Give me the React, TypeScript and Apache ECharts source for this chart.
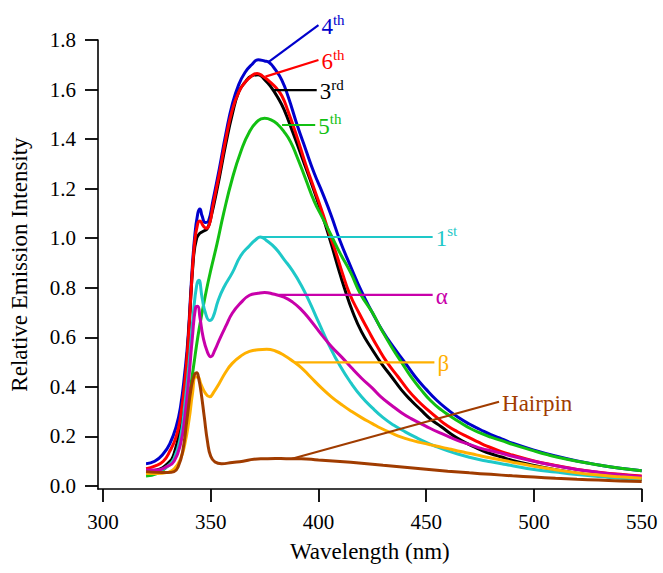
import React, { useEffect, useRef } from 'react';
import * as echarts from 'echarts';

const xTicks = [300, 350, 400, 450, 500, 550];
const yTicks = [0, 0.2, 0.4, 0.6, 0.8, 1.0, 1.2, 1.4, 1.6, 1.8];

const fourth: [number, number][] = [
  [320, 0.09], [324, 0.1], [328, 0.13], [331, 0.17], [334, 0.24], [336, 0.32], [338, 0.46], [339.5, 0.6],
  [341, 0.82], [342.5, 1.0], [344, 1.1], [345, 1.118], [346, 1.09], [347.5, 1.063], [349, 1.07], [351, 1.15],
  [354, 1.28], [357, 1.42], [360, 1.54], [363, 1.62], [366, 1.67], [369, 1.7], [372, 1.72], [375, 1.715],
  [377, 1.71], [380, 1.68], [383, 1.638], [386, 1.57], [390, 1.46], [394, 1.36], [398, 1.263], [402, 1.18],
  [406, 1.09], [410, 0.99], [415, 0.885], [420, 0.785], [425, 0.7], [430, 0.622], [435, 0.558], [440, 0.5],
  [445, 0.44], [450, 0.39], [455, 0.345], [460, 0.308], [465, 0.276], [470, 0.25], [475, 0.228], [480, 0.207],
  [485, 0.19], [490, 0.173], [500, 0.145], [510, 0.121], [520, 0.101], [530, 0.085], [540, 0.072], [550, 0.062],
];
const third: [number, number][] = [
  [320, 0.06], [325, 0.065], [330, 0.09], [333, 0.13], [336, 0.25], [338, 0.4], [340, 0.65], [342, 0.92],
  [343.5, 1.0], [345, 1.02], [347, 1.03], [348.5, 1.04], [350, 1.08], [353, 1.2], [357, 1.38], [360, 1.5],
  [363, 1.59], [366, 1.63], [369, 1.655], [372, 1.66], [375, 1.64], [378, 1.61], [381, 1.57], [384, 1.52],
  [388, 1.43], [392, 1.335], [396, 1.24], [400, 1.14], [403, 1.06], [406, 0.975], [409, 0.885], [412, 0.8],
  [416, 0.7], [420, 0.622], [425, 0.55], [429, 0.497], [434, 0.44], [438.5, 0.388], [443, 0.345],
  [447.5, 0.307], [452, 0.27], [457, 0.239], [461.5, 0.21], [466, 0.185], [471, 0.163], [475.5, 0.145],
  [480, 0.13], [485, 0.117], [490, 0.103], [500, 0.083], [510, 0.066], [520, 0.052], [530, 0.041],
  [540, 0.033], [550, 0.027],
];
const sixth: [number, number][] = [
  [320, 0.07], [324, 0.08], [328, 0.1], [331, 0.14], [334, 0.2], [336, 0.28], [338, 0.42], [339.5, 0.58],
  [341, 0.8], [342.5, 0.98], [344, 1.06], [345, 1.07], [346.5, 1.05], [348, 1.04], [349.5, 1.06], [351, 1.13],
  [354, 1.26], [357, 1.4], [360, 1.517], [363, 1.59], [366, 1.63], [369, 1.655], [371.5, 1.665], [374, 1.655],
  [377, 1.635], [380, 1.61], [383, 1.575], [386, 1.51], [390, 1.41], [394, 1.3], [398, 1.2], [402, 1.1],
  [405, 1.02], [408, 0.945], [411, 0.862], [414.5, 0.775], [419, 0.695], [423, 0.63], [427.5, 0.56],
  [432, 0.497], [437, 0.44], [441.5, 0.388], [446, 0.345], [451, 0.305], [455.5, 0.272], [460, 0.242],
  [464.5, 0.219], [469, 0.199], [474, 0.178], [478.5, 0.16], [484.5, 0.14], [490, 0.125], [500, 0.101],
  [510, 0.083], [520, 0.067], [530, 0.056], [540, 0.047], [550, 0.04],
];
const fifth: [number, number][] = [
  [320, 0.04], [325, 0.05], [330, 0.08], [333, 0.11], [336, 0.18], [338, 0.26], [340, 0.36], [342, 0.48],
  [344, 0.6], [346, 0.7], [348, 0.79], [350, 0.87], [353, 0.98], [356, 1.1], [360, 1.24], [364, 1.35],
  [368, 1.43], [372, 1.475], [375, 1.484], [378, 1.478], [381, 1.46], [384, 1.43], [387, 1.39], [390, 1.33],
  [394, 1.24], [398, 1.15], [402, 1.08], [406, 1.01], [410, 0.94], [415, 0.86], [419.5, 0.775], [425, 0.7],
  [429, 0.635], [434, 0.56], [438.5, 0.5], [443, 0.44], [447.5, 0.39], [452, 0.345], [457, 0.307],
  [461.5, 0.28], [466, 0.255], [470.5, 0.232], [475.5, 0.212], [480, 0.197], [485, 0.183], [490, 0.168],
  [500, 0.142], [506, 0.127], [510, 0.118], [520, 0.1], [530, 0.085], [540, 0.072], [550, 0.062],
];
const first: [number, number][] = [
  [320, 0.055], [325, 0.06], [330, 0.08], [333, 0.11], [336, 0.2], [338, 0.33], [340, 0.5], [342, 0.7],
  [343.5, 0.81], [344.5, 0.83], [346, 0.76], [347.5, 0.7], [349.5, 0.668], [351, 0.68], [353.5, 0.75],
  [356, 0.8], [360, 0.86], [364, 0.93], [368, 0.97], [371, 0.995], [373, 1.005], [376, 0.99], [380, 0.96],
  [384, 0.915], [388, 0.868], [392, 0.81], [396, 0.74], [400, 0.662], [405, 0.567], [410, 0.485],
  [415, 0.417], [420, 0.36], [425, 0.315], [430, 0.276], [435, 0.245], [440, 0.22], [445, 0.197], [450, 0.176],
  [455, 0.158], [460, 0.142], [465, 0.128], [470, 0.116], [475, 0.106], [480, 0.098], [485, 0.09], [490, 0.082],
  [500, 0.067], [510, 0.056], [520, 0.046], [530, 0.038], [540, 0.032], [550, 0.027],
];
const alpha: [number, number][] = [
  [320, 0.065], [325, 0.065], [330, 0.08], [333, 0.1], [336, 0.17], [338, 0.28], [340, 0.45], [341.5, 0.6],
  [343, 0.72], [344, 0.725], [345, 0.68], [346.5, 0.6], [348.5, 0.54], [350, 0.522], [352, 0.55], [354, 0.59],
  [357, 0.645], [360, 0.697], [364, 0.74], [368, 0.77], [372, 0.778], [375, 0.781], [379, 0.775], [384, 0.762],
  [388, 0.742], [392, 0.712], [396, 0.672], [401.5, 0.61], [406, 0.563], [411, 0.518], [415, 0.48],
  [420, 0.435], [425, 0.395], [429, 0.36], [434, 0.325], [438.5, 0.296], [443, 0.272], [447.5, 0.252],
  [452, 0.232], [457, 0.212], [461.5, 0.195], [466, 0.179], [471, 0.165], [475.5, 0.152], [480, 0.142],
  [485, 0.132], [490, 0.12], [500, 0.1], [510, 0.082], [520, 0.067], [530, 0.055], [540, 0.045], [550, 0.037],
];
const beta: [number, number][] = [
  [320, 0.05], [325, 0.05], [330, 0.055], [333, 0.068], [336, 0.11], [338, 0.17], [340, 0.27], [341.5, 0.37],
  [343, 0.44], [344, 0.44], [345.5, 0.41], [347.5, 0.375], [349.5, 0.36], [351.5, 0.38], [354, 0.415],
  [357, 0.46], [360, 0.495], [364, 0.525], [368, 0.543], [372, 0.55], [376, 0.552], [380, 0.545], [384, 0.528],
  [388.7, 0.5], [392, 0.478], [396, 0.443], [401.5, 0.395], [406, 0.36], [411, 0.327], [415, 0.303],
  [420, 0.276], [425, 0.252], [429, 0.233], [434, 0.213], [438.5, 0.197], [443, 0.185], [447.5, 0.175],
  [452, 0.166], [457, 0.157], [461.5, 0.148], [466, 0.139], [471, 0.13], [475.5, 0.121], [480, 0.113],
  [485, 0.105], [490, 0.096], [500, 0.08], [510, 0.066], [520, 0.053], [530, 0.044], [540, 0.037], [550, 0.031],
];
const hairpin: [number, number][] = [
  [320, 0.058], [325, 0.055], [330, 0.054], [333, 0.058], [335, 0.08], [337, 0.14], [339, 0.27], [341, 0.4],
  [342.5, 0.45], [343.5, 0.457], [344.5, 0.43], [345.5, 0.38], [347, 0.28], [348.5, 0.18], [350, 0.12],
  [352, 0.097], [355, 0.09], [360, 0.095], [365, 0.1], [370, 0.108], [375, 0.11], [380, 0.111], [385, 0.11],
  [392, 0.11], [400, 0.105], [410, 0.099], [420, 0.092], [430, 0.084], [440, 0.076], [450, 0.068], [460, 0.06],
  [470, 0.053], [480, 0.047], [490, 0.041], [500, 0.036], [510, 0.031], [520, 0.027], [530, 0.024], [540, 0.02],
  [550, 0.018],
];

const leader4th: [number, number][] = [[376.9, 1.712], [400, 1.86]];
const leader6th: [number, number][] = [[375.4, 1.652], [400, 1.719]];
const leader3rd: [number, number][] = [[379.2, 1.598], [399.2, 1.598]];
const leader5th: [number, number][] = [[383.1, 1.457], [398.5, 1.457]];
const leader1st: [number, number][] = [[373, 1.005], [453, 1.005]];
const leaderAlpha: [number, number][] = [[381.8, 0.771], [453, 0.771]];
const leaderBeta: [number, number][] = [[388.7, 0.499], [453.8, 0.499]];
const leaderHairpin: [number, number][] = [[387.7, 0.11], [483.8, 0.34]];

const FONT = 'Liberation Serif';

const C = {
  blue: '#0000cc',
  black: '#000000',
  red: '#ff0000',
  green: '#12c012',
  cyan: '#1ec8c8',
  magenta: '#c800aa',
  orange: '#ffb000',
  brown: '#a03c00',
};

function curve(name: string, data: [number, number][], color: string) {
  return {
    name,
    type: 'line',
    data,
    showSymbol: false,
    symbol: 'none',
    smooth: 0.5,
    lineStyle: { color, width: 3 },
    silent: true,
  };
}

function leader(name: string, data: [number, number][], color: string, main: string, sup?: string) {
  return {
    name,
    type: 'line',
    data,
    showSymbol: false,
    symbol: 'none',
    clip: false,
    lineStyle: { color, width: 2.2 },
    silent: true,
    endLabel: {
      show: true,
      distance: 3,
      formatter: sup ? `{n|${main}}{s|${sup}}` : `{n|${main}}`,
      rich: {
        n: { fontFamily: FONT, fontSize: 23, color, lineHeight: 26, verticalAlign: 'bottom' },
        s: { fontFamily: FONT, fontSize: 15, color, lineHeight: 15, verticalAlign: 'top' },
      },
    },
  };
}

export default function App() {
  const ref = useRef<HTMLDivElement>(null);
  useEffect(() => {
    if (!ref.current) return;
    const chart = echarts.init(ref.current, undefined, { renderer: 'svg' });
    chart.setOption({
      animation: false,
      backgroundColor: '#ffffff',
      textStyle: { fontFamily: FONT },
      grid: { left: 95, right: 21.3, top: 40, bottom: 84, containLabel: false },
      xAxis: {
        type: 'value',
        min: 297.7,
        max: 550,
        name: 'Wavelength (nm)',
        nameLocation: 'middle',
        nameGap: 51,
        nameTextStyle: { fontFamily: FONT, fontSize: 23, color: '#000' },
        axisLine: { show: true, onZero: false, lineStyle: { color: '#000', width: 1.6 } },
        axisTick: { show: true, inside: false, length: 13, customValues: xTicks, lineStyle: { color: '#000', width: 1.8 } },
        axisLabel: { customValues: xTicks, margin: 22, fontFamily: FONT, fontSize: 21, color: '#000' },
        splitLine: { show: false },
      },
      yAxis: {
        type: 'value',
        min: -0.0121,
        max: 1.8,
        name: 'Relative Emission Intensity',
        nameLocation: 'middle',
        nameGap: 67,
        nameRotate: 90,
        nameTextStyle: { fontFamily: FONT, fontSize: 23, color: '#000' },
        axisLine: { show: true, onZero: false, lineStyle: { color: '#000', width: 1.6 } },
        axisTick: { show: true, inside: false, length: 13, customValues: yTicks, lineStyle: { color: '#000', width: 1.8 } },
        axisLabel: {
          customValues: yTicks,
          margin: 22,
          fontFamily: FONT,
          fontSize: 21,
          color: '#000',
          formatter: (v: number) => v.toFixed(1),
        },
        splitLine: { show: false },
      },
      series: [
        curve('4th', fourth, C.blue),
        curve('3rd', third, C.black),
        curve('6th', sixth, C.red),
        curve('5th', fifth, C.green),
        curve('1st', first, C.cyan),
        curve('α', alpha, C.magenta),
        curve('β', beta, C.orange),
        curve('Hairpin', hairpin, C.brown),
        leader('4th label', leader4th, C.blue, '4', 'th'),
        leader('6th label', leader6th, C.red, '6', 'th'),
        leader('3rd label', leader3rd, C.black, '3', 'rd'),
        leader('5th label', leader5th, C.green, '5', 'th'),
        leader('1st label', leader1st, C.cyan, '1', 'st'),
        leader('α label', leaderAlpha, C.magenta, 'α'),
        leader('β label', leaderBeta, C.orange, 'β'),
        leader('Hairpin label', leaderHairpin, C.brown, 'Hairpin'),
      ],
    });
    return () => chart.dispose();
  }, []);
  return <div ref={ref} style={{ width: 663, height: 573, position: 'absolute', left: 0, top: 0 }} />;
}
